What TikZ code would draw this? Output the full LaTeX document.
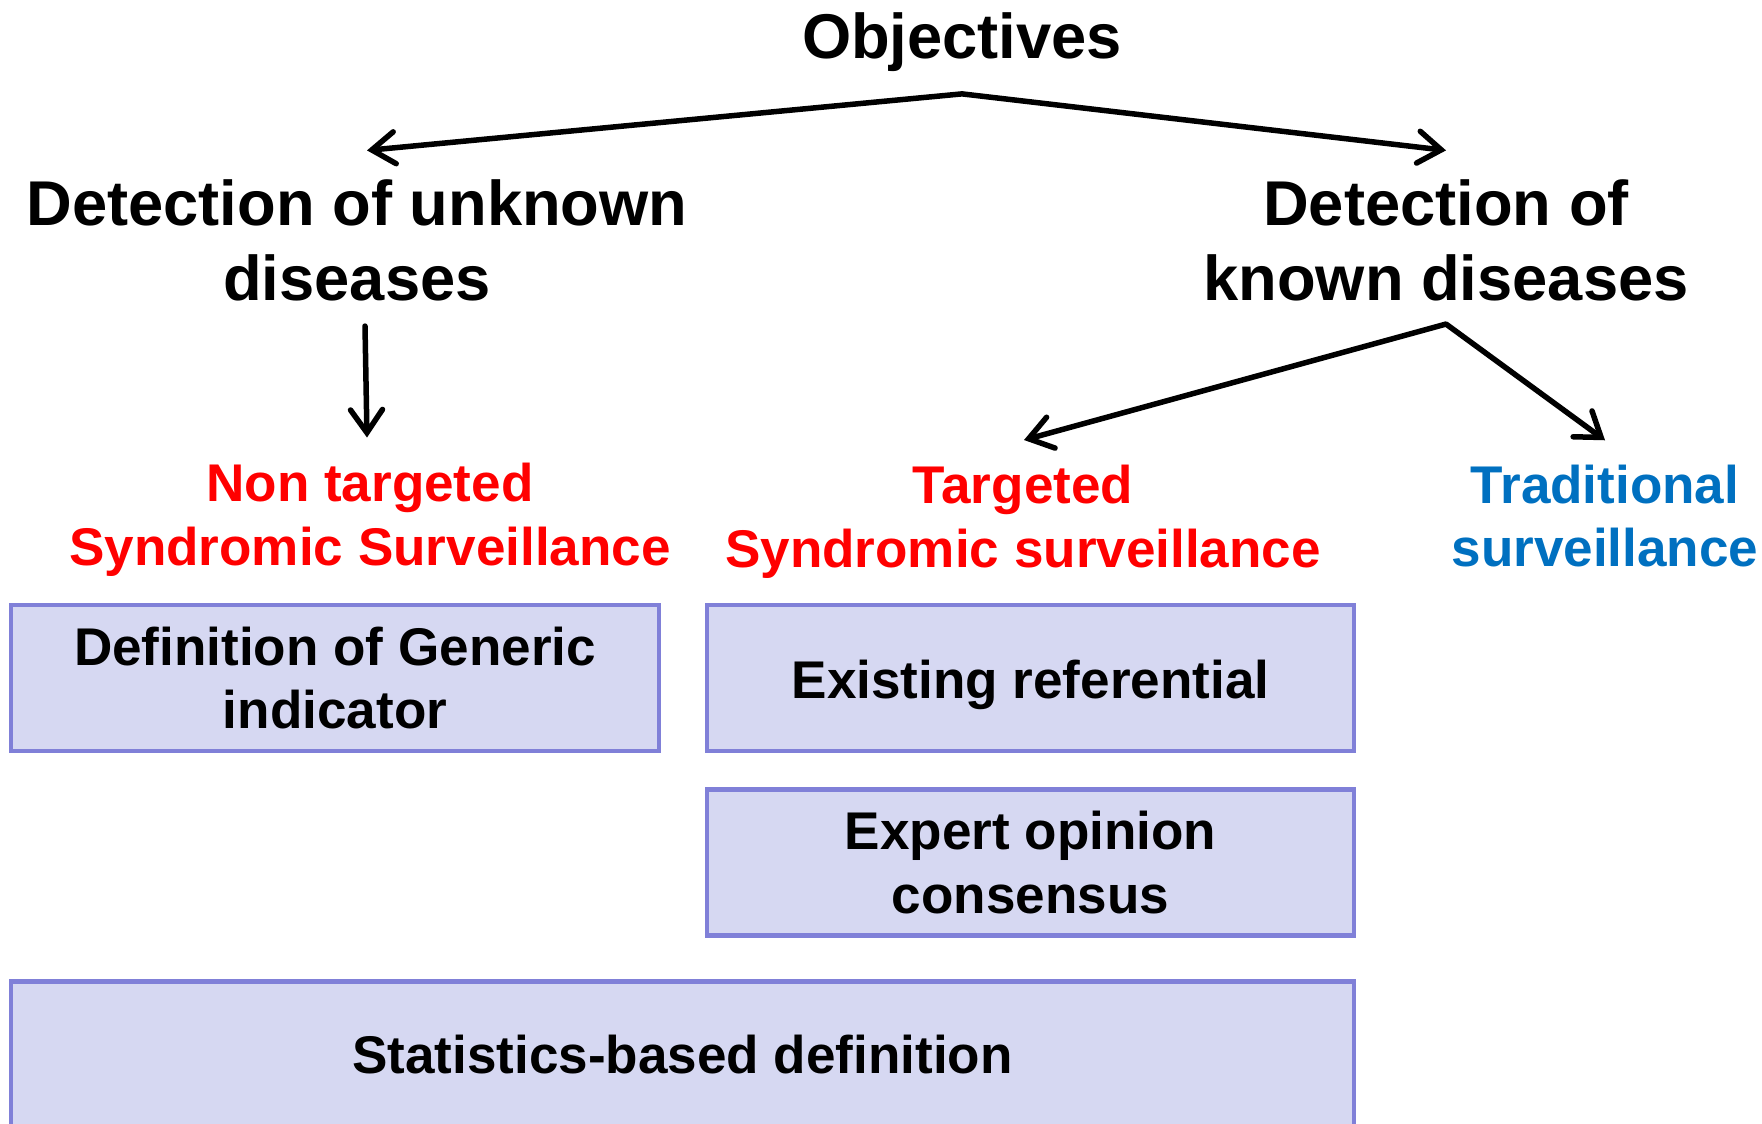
\documentclass[tikz,border=0pt]{standalone}
\usepackage{fontspec}
\setmainfont{Liberation Sans}
\definecolor{obred}{RGB}{255, 0, 0}
\definecolor{obblue}{RGB}{0, 112, 192}
\definecolor{obedge}{RGB}{128, 128, 216}
\definecolor{oblight}{RGB}{214, 216, 242}
\usetikzlibrary{arrows.meta, positioning}

\begin{document}
\begin{tikzpicture}[
    head/.style={font=\fontsize{18}{21.3}\selectfont\bfseries, align=center},
    label/.style={font=\fontsize{15.1}{18.1}\selectfont\bfseries, align=center},
    box/.style={draw=obedge, fill=oblight, line width=0.045cm, label, minimum height=1.46cm},
    arr/.style={line width=0.055cm, line cap=round, line join=round,
      arrows={Straight Barb[length=2.3mm, width=3.2mm, line cap=round]-Straight Barb[length=2.3mm, width=3.2mm, line cap=round]}}
  ]
    \useasboundingbox (0,0) rectangle (17.62,11.24);
    % objectives
    \node[head] (obj) at (9.62,10.82) {Objectives};
    \node[head] (unk) at (3.57,8.84) {Detection of unknown\\diseases};
    \node[head] (kn) at (14.46,8.84) {Detection of\\known diseases};
    % surveillance types
    \node[label, text=obred] (nontarg) at (3.70,6.04) {Non targeted\\Syndromic Surveillance};
    \node[label, text=obred] (targ) at (10.23,6.02) {Targeted\\Syndromic surveillance};
    \node[label, text=obblue] (trad) at (16.05,6.08) {Traditional\\surveillance};
    % boxes
    \node[box, minimum width=6.48cm] (generic) at (3.35,4.46) {Definition of Generic\\indicator};
    \node[box, minimum width=6.47cm, text height=0.52cm] (refer) at (10.305,4.46) {Existing referential};
    \node[box, minimum width=6.47cm] (expert) at (10.305,2.615) {Expert opinion\\consensus};
    \node[box, minimum width=13.43cm] (stats) at (6.825,0.695) {Statistics-based definition};
    % arrows
    \draw[arr] ([xshift=1mm,yshift=1.65mm]unk.north) -- ([yshift=-1mm]obj.south) -- ([yshift=1.65mm]kn.north);
    \draw[arr, arrows={-Straight Barb[length=2.3mm, width=3.2mm, line cap=round]}]
      ([xshift=0.8mm,yshift=-1.3mm]unk.south) -- ([xshift=-0.3mm,yshift=1.35mm]nontarg.north);
    \draw[arr] ([xshift=0.1mm,yshift=1.3mm]targ.north) -- ([yshift=-1.1mm]kn.south) -- ([yshift=1.2mm]trad.north);
\end{tikzpicture}
\end{document}
